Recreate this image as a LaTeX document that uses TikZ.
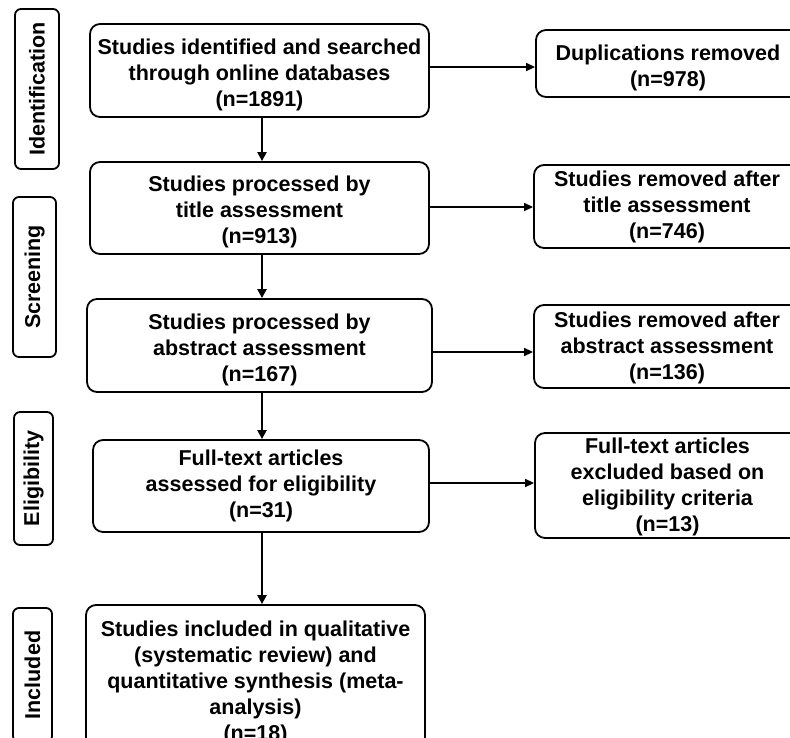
\documentclass[tikz,border=0pt]{standalone}
\usepackage{fontspec}
\setmainfont{Liberation Sans}
\usetikzlibrary{arrows.meta}
\newcommand{\tp}{\rule{0pt}{23.5pt}}
\newcommand{\tq}{\rule{0pt}{19pt}}
\begin{document}
\begin{tikzpicture}[x=1pt,y=-1pt,
  txt/.style={font=\fontsize{21.5}{26}\selectfont\bfseries},
  box/.style={txt,draw=black,line width=1.8pt,rounded corners=10pt,align=center,inner sep=0pt},
  side/.style={txt,draw=black,line width=1.8pt,rounded corners=6pt,inner sep=0pt,rotate=90},
  varrow/.style={line width=2.4pt,-{Triangle[length=9pt,width=9pt]}},
  harrow/.style={line width=1.5pt,-{Triangle[length=9pt,width=8pt]}}]
\useasboundingbox (0,0) rectangle (790,738);
\clip (0,0) rectangle (790,738);
\fill[white] (0,0) rectangle (790,738);
% side labels
\node[side,minimum width=160pt,minimum height=44pt] (s1) at (37,89) {Identification};
\node[side,minimum width=160pt,minimum height=43pt] (s2) at (34.5,277) {Screening};
\node[side,minimum width=133pt,minimum height=39pt] (s3) at (33.5,478.5) {Eligibility};
\node[side,minimum width=134pt,minimum height=39pt] (s4) at (32.5,675) {Included};
% main boxes
\node[box,minimum width=339pt,minimum height=93pt] (b1) at (259.5,70.5) {\tp Studies identified and searched\\through online databases\\(n=1891)};
\node[box,minimum width=339pt,minimum height=92pt] (b2) at (259.5,208) {\tp Studies processed by\\title assessment\\(n=913)};
\node[box,minimum width=345pt,minimum height=93pt] (b3) at (259.5,345.5) {\tp Studies processed by\\abstract assessment\\(n=167)};
\node[box,minimum width=336pt,minimum height=92pt] (b4) at (261,486) {Full-text articles\\assessed for eligibility\\(n=31)};
\node[box,minimum width=339pt,minimum height=147pt] (b5) at (255.5,678.5) {\tp Studies included in qualitative\\(systematic review) and\\quantitative synthesis (meta-\\analysis)\\(n=18)};
% right boxes
\node[box,minimum width=264pt,minimum height=67pt] (r1) at (668,63.5) {\tp Duplications removed\\(n=978)};
\node[box,minimum width=266pt,minimum height=83pt] (r2) at (667,206.5) {Studies removed after\\title assessment\\(n=746)};
\node[box,minimum width=266pt,minimum height=83pt] (r3) at (667,346.5) {\tq Studies removed after\\abstract assessment\\(n=136)};
\node[box,minimum width=265pt,minimum height=105pt] (r4) at (667.5,485.5) {\tq Full-text articles\\excluded based on\\eligibility criteria\\(n=13)};
% vertical arrows
\coordinate (ax) at (262,0);
\draw[varrow] (b1.south -| ax) -- (b2.north -| ax);
\draw[varrow] (b2.south -| ax) -- (b3.north -| ax);
\draw[varrow] (b3.south -| ax) -- (b4.north -| ax);
\draw[varrow] (b4.south -| ax) -- (b5.north -| ax);
% horizontal arrows
\coordinate (h1) at (0,67);
\coordinate (h2) at (0,207);
\coordinate (h3) at (0,352);
\coordinate (h4) at (0,483);
\draw[harrow] (b1.east |- h1) -- (r1.west |- h1);
\draw[harrow] (b2.east |- h2) -- (r2.west |- h2);
\draw[harrow] (b3.east |- h3) -- (r3.west |- h3);
\draw[harrow] (b4.east |- h4) -- (r4.west |- h4);
\end{tikzpicture}
\end{document}
